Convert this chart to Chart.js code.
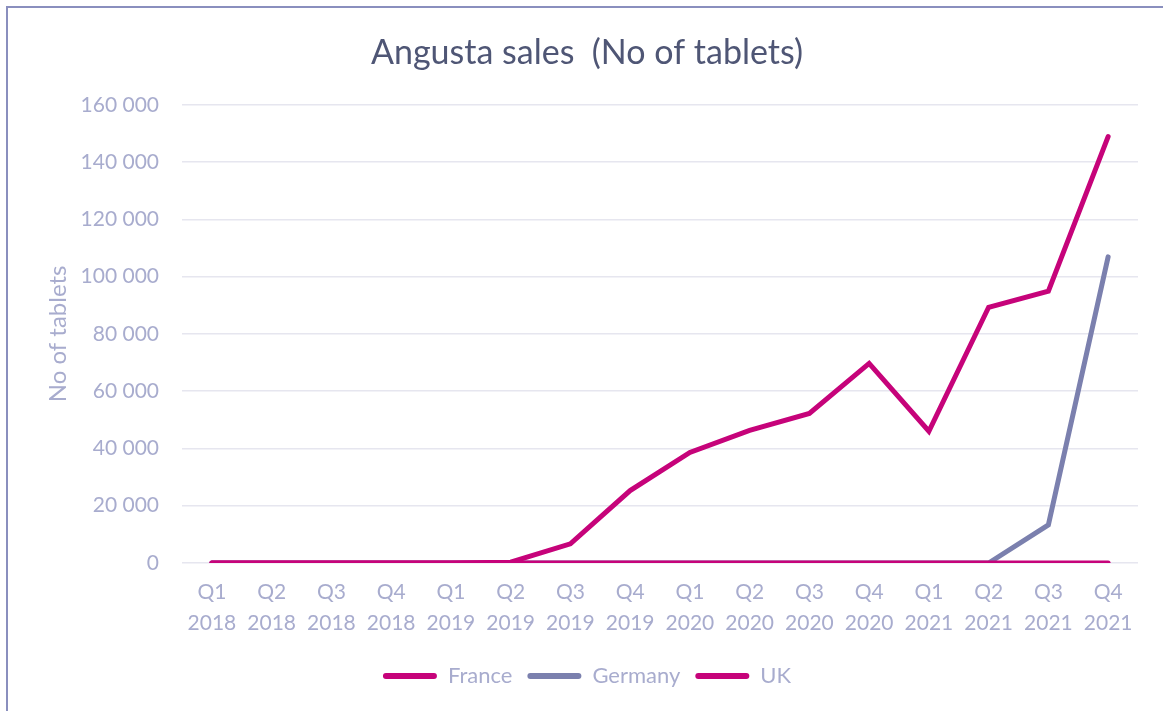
<!DOCTYPE html>
<html>
<head>
<meta charset="utf-8">
<script src="https://cdn.jsdelivr.net/npm/chart.js@4"></script>
<style>
  html, body { margin: 0; padding: 0; background: #ffffff; overflow: hidden; }
  #frame { position: absolute; left: 6px; top: 6px; width: 3000px; height: 3000px;
           border-left: 2px solid #8a8fbe; border-top: 2px solid #8a8fbe; box-sizing: border-box; }
  #c { position: absolute; left: 0; top: 0; }
</style>
</head>
<body>
<div id="frame"></div>
<canvas id="c" width="1163" height="711"></canvas>
<script>
const categories = [
  ["Q1","2018"],["Q2","2018"],["Q3","2018"],["Q4","2018"],
  ["Q1","2019"],["Q2","2019"],["Q3","2019"],["Q4","2019"],
  ["Q1","2020"],["Q2","2020"],["Q3","2020"],["Q4","2020"],
  ["Q1","2021"],["Q2","2021"],["Q3","2021"],["Q4","2021"]
];
const france  = [0, 0, 0, 0, 0, 300, 6700, 25300, 38600, 46300, 52200, 69700, 46000, 89300, 94900, 148900];
const germany = [0, 0, 0, 0, 0, 0, 0, 0, 0, 0, 0, 0, 0, 0, 13300, 106900];
const uk      = [0, 0, 0, 0, 0, 0, 0, 0, 0, 0, 0, 0, 0, 0, 0, 0];
const yTicks  = [0, 20000, 40000, 60000, 80000, 100000, 120000, 140000, 160000];

const MAGENTA = '#c6037a';
const SLATE = '#7b80ae';
const TEXT = '#a8acce';
const FONT = 'Lato, "Open Sans", sans-serif';

function fmt(v) { return String(v).replace(/\B(?=(\d{3})+(?!\d))/g, ' '); }

const lineDefaults = { borderWidth: 5, pointRadius: 0, pointHoverRadius: 0, tension: 0,
  borderCapStyle: 'round', borderJoinStyle: 'miter', fill: false };

new Chart(document.getElementById('c'), {
  type: 'line',
  data: {
    labels: categories,
    datasets: [
      Object.assign({ label: 'France', data: france, borderColor: MAGENTA, backgroundColor: MAGENTA, order: 1 }, lineDefaults),
      Object.assign({ label: 'Germany', data: germany, borderColor: SLATE, backgroundColor: SLATE, order: 2 }, lineDefaults),
      Object.assign({ label: 'UK', data: uk, borderColor: MAGENTA, backgroundColor: MAGENTA, order: 0 }, lineDefaults)
    ]
  },
  options: {
    responsive: false,
    animation: false,
    layout: { padding: { left: 36, right: 25, top: 0, bottom: 14 } },
    plugins: {
      title: {
        display: true,
        text: 'Angusta sales  (No of tablets)',
        color: '#4f5675',
        font: { family: FONT, size: 34, weight: 'normal' },
        padding: { top: 33, bottom: 31 }
      },
      legend: {
        position: 'bottom',
        labels: {
          color: TEXT,
          font: { family: FONT, size: 22 },
          boxWidth: 54,
          boxHeight: 6,
          useBorderRadius: true,
          borderRadius: 3,
          padding: 15,
          sort: (a, b) => a.datasetIndex - b.datasetIndex,
          generateLabels: (chart) => {
            const items = Chart.defaults.plugins.legend.labels.generateLabels(chart);
            items.forEach(it => { it.lineWidth = 0; it.strokeStyle = 'rgba(0,0,0,0)'; });
            return items;
          }
        }
      },
      tooltip: { enabled: false }
    },
    scales: {
      x: {
        offset: true,
        grid: { display: false, drawTicks: false },
        border: { display: false },
        ticks: {
          color: TEXT,
          font: { family: FONT, size: 21, lineHeight: 1.48 },
          padding: 14,
          maxRotation: 0,
          autoSkip: false
        },
        afterFit: (s) => { s.height = 87; }
      },
      y: {
        min: 0,
        max: 160000,
        afterBuildTicks: (s) => { s.ticks = yTicks.map(v => ({ value: v })); },
        grid: { color: '#e6e6ef', lineWidth: 1.5, drawTicks: false },
        border: { display: false },
        ticks: {
          color: TEXT,
          font: { family: FONT, size: 21 },
          padding: 23,
          callback: (v) => fmt(v)
        },
        title: {
          display: true,
          text: 'No of tablets',
          color: TEXT,
          font: { family: FONT, size: 24 },
          padding: { top: 8, bottom: 0 }
        },
        afterFit: (s) => { s.width = 146; }
      }
    }
  }
});
</script>
</body>
</html>
